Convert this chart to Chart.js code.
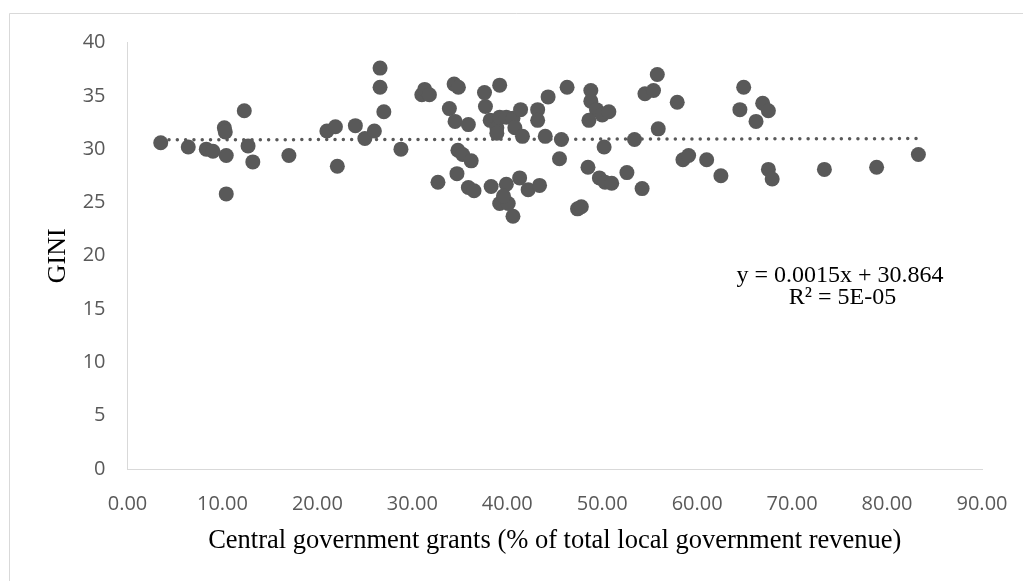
<!DOCTYPE html>
<html>
<head>
<meta charset="utf-8">
<script src="https://cdn.jsdelivr.net/npm/chart.js@4"></script>
<style>
  html, body { margin: 0; padding: 0; background: #fff; }
  #wrap { width: 1023px; height: 581px; }
</style>
</head>
<body>
<div id="wrap"><canvas id="scatterChart" width="1023" height="581"></canvas></div>
<script>
// central government grants (% of total local government revenue)
const grants = [
    3.5, 6.4, 8.3, 9.0, 10.2, 10.3, 10.4, 10.4, 12.3, 12.7,
    13.2, 17.0, 21.0, 21.9, 22.1, 24.0, 25.0, 26.0, 26.6, 26.6,
    27.0, 28.8, 31.0, 31.3, 31.8, 33.9, 34.4, 34.85, 34.5, 35.9,
    34.8, 35.3, 36.2, 34.7, 32.7, 35.9, 36.5, 37.6, 37.7, 39.2,
    38.2, 38.9, 39.2, 39.9, 40.6, 41.4, 40.8, 38.9, 41.6, 43.2,
    43.2, 44.3, 46.3, 44.0, 45.7, 45.5, 38.3, 39.9, 41.3, 42.2,
    43.4, 39.2, 40.1, 39.6, 40.6, 47.4, 47.8, 48.8, 48.8, 49.4,
    50.0, 50.7, 48.6, 50.2, 48.5, 49.7, 50.3, 51.0, 52.6, 54.2,
    53.4, 54.5, 55.4, 55.8, 55.9, 57.9, 58.5, 59.1, 61.0, 62.5,
    64.9, 64.5, 66.2, 66.9, 67.5, 67.5, 67.9, 73.4, 78.9, 83.3
];
const gini = [
    30.6, 30.2, 30.0, 29.8, 32.0, 31.6, 29.4, 25.8, 33.6, 30.3,
    28.8, 29.4, 31.7, 32.1, 28.4, 32.2, 31.0, 31.7, 37.6, 35.8,
    33.5, 30.0, 35.1, 35.6, 35.1, 33.8, 36.1, 35.8, 32.6, 32.3,
    29.9, 29.5, 28.9, 27.7, 26.9, 26.4, 26.1, 35.3, 34.0, 36.0,
    32.7, 32.0, 33.0, 33.0, 32.9, 33.7, 32.0, 31.5, 31.2, 33.7,
    32.7, 34.9, 35.8, 31.2, 30.9, 29.1, 26.5, 26.7, 27.3, 26.2,
    26.6, 24.9, 24.9, 25.6, 23.7, 24.4, 24.6, 35.5, 34.5, 33.7,
    33.2, 33.5, 32.7, 30.2, 28.3, 27.3, 26.9, 26.8, 27.8, 26.3,
    30.9, 35.2, 35.5, 37.0, 31.9, 34.4, 29.0, 29.4, 29.0, 27.5,
    35.8, 33.7, 32.6, 34.3, 33.6, 28.1, 27.2, 28.1, 28.3, 29.5
];

// linear trendline as printed on the chart
const slope = 0.0015;
const intercept = 30.864;
const eqLines = ['y = 0.0015x + 30.864', 'R\u00b2 = 5E-05'];

const points = grants.map((g, i) => ({ x: g, y: gini[i] }));
const xMin = Math.min(...grants);
const xMax = Math.max(...grants);
const trend = [
    { x: xMin, y: slope * xMin + intercept },
    { x: xMax, y: slope * xMax + intercept }
];

const frameAndLabel = {
    id: 'frameAndLabel',
    beforeDraw(chart) {
        const c = chart.ctx;
        c.save();
        c.fillStyle = '#fff';
        c.fillRect(0, 0, chart.width, chart.height);
        c.strokeStyle = '#d9d9d9';
        c.lineWidth = 1;
        c.beginPath();
        c.moveTo(9.5, chart.height);
        c.lineTo(9.5, 13.5);
        c.lineTo(chart.width, 13.5);
        c.stroke();
        c.restore();
    },
    afterDraw(chart) {
        const c = chart.ctx;
        const x = chart.scales.x.getPixelForValue(75.05);
        const y = chart.scales.y.getPixelForValue(17.54);
        c.save();
        c.font = '24px "Liberation Serif"';
        c.fillStyle = '#000';
        c.textAlign = 'center';
        c.textBaseline = 'alphabetic';
        c.fillText(eqLines[0], x, y);
        c.fillText(eqLines[1], x + 2.5, y + 22);
        c.restore();
    }
};

const ctx = document.getElementById('scatterChart').getContext('2d');
const scatterChart = new Chart(ctx, {
    type: 'scatter',
    data: {
        datasets: [{
            label: 'GINI',
            data: points,
            backgroundColor: '#595959',
            borderColor: '#595959',
            borderWidth: 0,
            pointRadius: 7.5,
            pointHoverRadius: 7.5,
            order: 1
        }, {
            label: 'Linear trend',
            type: 'line',
            data: trend,
            borderColor: '#595959',
            borderWidth: 3.5,
            borderDash: [0, 8.3],
            borderCapStyle: 'round',
            pointRadius: 0,
            fill: false,
            order: 2
        }]
    },
    options: {
        responsive: false,
        animation: false,
        layout: {
            padding: { left: 0, top: 42.5, right: 41, bottom: 0 }
        },
        plugins: {
            legend: { display: false },
            tooltip: { enabled: false }
        },
        scales: {
            x: {
                type: 'linear',
                min: 0,
                max: 90,
                grid: { display: false, drawTicks: false },
                border: { display: true, color: '#d9d9d9', width: 1 },
                ticks: {
                    stepSize: 10,
                    padding: 23,
                    color: '#595959',
                    font: { family: '"Open Sans"', size: 20 },
                    callback: (v) => Number(v).toFixed(2)
                },
                title: {
                    display: true,
                    text: 'Central government grants (% of total local government revenue)',
                    color: '#000',
                    font: { family: '"Liberation Serif"', size: 26.5 },
                    padding: { top: 0, bottom: 24 }
                },
                afterFit(scale) {
                    scale.height = 581 - 469;
                    scale.paddingLeft = 0;
                    scale.paddingRight = 0;
                }
            },
            y: {
                min: 0,
                max: 40,
                grid: { display: false, drawTicks: false },
                border: { display: true, color: '#d9d9d9', width: 1 },
                ticks: {
                    stepSize: 5,
                    padding: 22,
                    color: '#595959',
                    font: { family: '"Open Sans"', size: 20 }
                },
                title: {
                    display: true,
                    text: 'GINI',
                    color: '#000',
                    font: { family: '"Liberation Serif"', size: 26 },
                    padding: { top: 43, bottom: 0 }
                },
                afterFit(scale) { scale.width = 127.5; }
            }
        }
    },
    plugins: [frameAndLabel]
});
</script>
</body>
</html>
